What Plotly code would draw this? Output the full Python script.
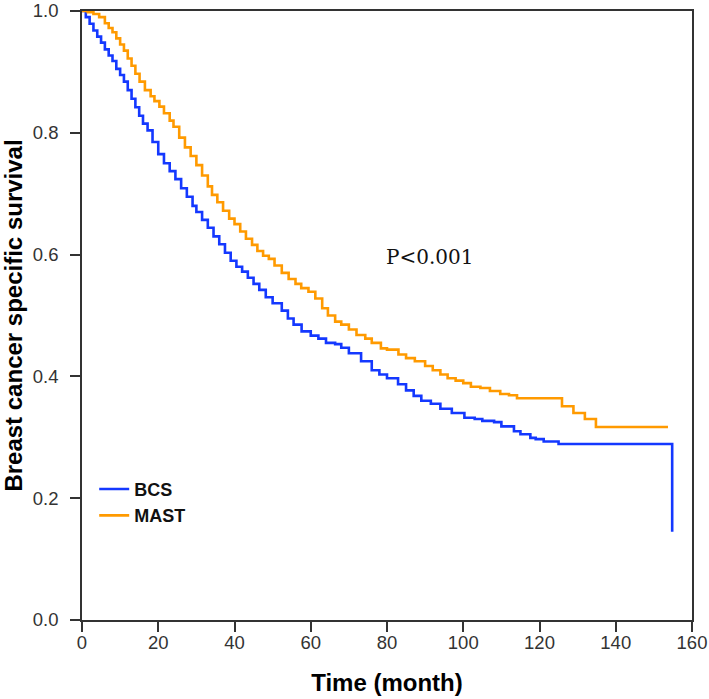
import plotly.graph_objects as go

# Kaplan-Meier estimates (time in months, survival probability)
bcs_time = [0, 1, 2, 3, 4, 5, 6, 7, 8, 9, 10, 11, 12, 13, 14, 15, 16, 17.2, 18.5, 20,
            21.5, 23, 24.5, 26, 27.5, 29, 30, 31.5, 33, 34.5, 36, 37.5, 39, 40.5, 42,
            43.5, 45, 46.5, 48.2, 50, 52.4, 54, 55.5, 57.6, 60, 62, 64, 66.4, 68, 70,
            73.2, 76, 78, 80, 82.9, 85, 87, 89, 91.5, 94, 97, 100.3, 103, 105, 108.1,
            110, 113.3, 115, 117.6, 119, 121.1, 125, 154.8]
bcs_surv = [1.0, 0.99, 0.979, 0.968, 0.958, 0.948, 0.937, 0.927, 0.918, 0.905, 0.895,
            0.884, 0.87, 0.856, 0.842, 0.828, 0.815, 0.804, 0.785, 0.765, 0.75, 0.737,
            0.724, 0.709, 0.695, 0.68, 0.67, 0.657, 0.644, 0.630, 0.617, 0.603, 0.59,
            0.58, 0.572, 0.562, 0.552, 0.542, 0.53, 0.52, 0.508, 0.495, 0.485, 0.474,
            0.467, 0.462, 0.455, 0.453, 0.447, 0.438, 0.425, 0.41, 0.403, 0.397, 0.387,
            0.377, 0.368, 0.36, 0.355, 0.347, 0.34, 0.332, 0.33, 0.327, 0.325, 0.318,
            0.310, 0.305, 0.299, 0.297, 0.293, 0.289, 0.145]

mast_time = [0, 1.5, 3, 4.5, 6, 7, 8, 9, 10, 11, 12, 13, 14, 15.1, 16.5, 18, 19, 20.3,
             21.5, 23, 24, 25.5, 27, 28.5, 30, 31.5, 33, 34.1, 35.5, 37, 38.6, 40, 41.5,
             43, 44.6, 46, 47.5, 49, 50.5, 52.4, 54.2, 56, 57.5, 59.4, 61.2, 63, 64.5,
             66.4, 68, 70, 72, 74.3, 76, 78.4, 80, 83, 85, 87.3, 90, 92, 94, 95.9, 98,
             100, 102, 104.5, 107, 109.7, 112, 114.1, 125.9, 128.9, 131.9, 134.8, 153.7]
mast_surv = [1.0, 0.998, 0.995, 0.99, 0.98, 0.972, 0.965, 0.955, 0.945, 0.935, 0.922,
             0.91, 0.897, 0.884, 0.87, 0.86, 0.852, 0.843, 0.832, 0.82, 0.81, 0.792,
             0.776, 0.762, 0.747, 0.73, 0.712, 0.698, 0.686, 0.672, 0.659, 0.65, 0.638,
             0.626, 0.616, 0.606, 0.598, 0.593, 0.582, 0.57, 0.560, 0.552, 0.545, 0.539,
             0.528, 0.512, 0.50, 0.49, 0.485, 0.477, 0.468, 0.462, 0.455, 0.446, 0.444,
             0.436, 0.43, 0.425, 0.417, 0.41, 0.403, 0.397, 0.393, 0.389, 0.383, 0.381,
             0.376, 0.371, 0.369, 0.364, 0.351, 0.340, 0.330, 0.317, 0.317]

x_ticks = [0, 20, 40, 60, 80, 100, 120, 140, 160]
y_ticks = [0.0, 0.2, 0.4, 0.6, 0.8, 1.0]
y_tick_text = ["0.0", "0.2", "0.4", "0.6", "0.8", "1.0"]

p_label = "P<0.001"
p_pos = (91.2, 0.596)

BLUE = "#1438ff"
ORANGE = "#ff9a00"
SANS = "Liberation Sans, Arial, sans-serif"

fig = go.Figure()
fig.add_trace(go.Scatter(x=bcs_time, y=bcs_surv, mode="lines", name="<b>BCS</b>",
                         line=dict(color=BLUE, width=2.6, shape="hv")))
fig.add_trace(go.Scatter(x=mast_time, y=mast_surv, mode="lines", name="<b>MAST</b>",
                         line=dict(color=ORANGE, width=2.6, shape="hv")))

fig.add_annotation(x=p_pos[0], y=p_pos[1], text=p_label, showarrow=False,
                   font=dict(family="DejaVu Serif, Liberation Serif, serif", size=20, color="#111"),
                   xanchor="center", yanchor="middle")

axis_common = dict(showline=True, linecolor="#333", linewidth=1.6, mirror=True,
                   ticks="outside", ticklen=10, tickwidth=1.6, tickcolor="#333",
                   showgrid=False, zeroline=False, ticklabeloverflow="allow",
                   automargin=False,
                   tickfont=dict(family=SANS, size=18.5, color="#333"))

fig.update_xaxes(range=[0, 160], tickvals=x_ticks, ticklabelstandoff=-5,
                 title=dict(text="<b>Time (month)</b>", standoff=22,
                            font=dict(family=SANS, size=24, color="#000")),
                 **axis_common)
fig.update_yaxes(range=[0, 1], tickvals=y_ticks, ticktext=y_tick_text, ticklabelstandoff=8,
                 title=dict(text="<b>Breast cancer specific survival</b>", standoff=10,
                            font=dict(family=SANS, size=24, color="#000")),
                 **axis_common)

fig.update_layout(
    width=709, height=699,
    margin=dict(l=82, r=17, t=11, b=79, autoexpand=False),
    paper_bgcolor="white", plot_bgcolor="white",
    showlegend=True,
    legend=dict(x=0.02, y=0.245, xanchor="left", yanchor="top",
                bgcolor="rgba(0,0,0,0)", borderwidth=0,
                font=dict(family=SANS, size=18, color="#111"),
                itemwidth=30, tracegroupgap=0),
)

fig.write_html("out.html", config={"displayModeBar": False},
               post_script="document.body.style.margin='0';document.body.style.overflow='hidden';")
